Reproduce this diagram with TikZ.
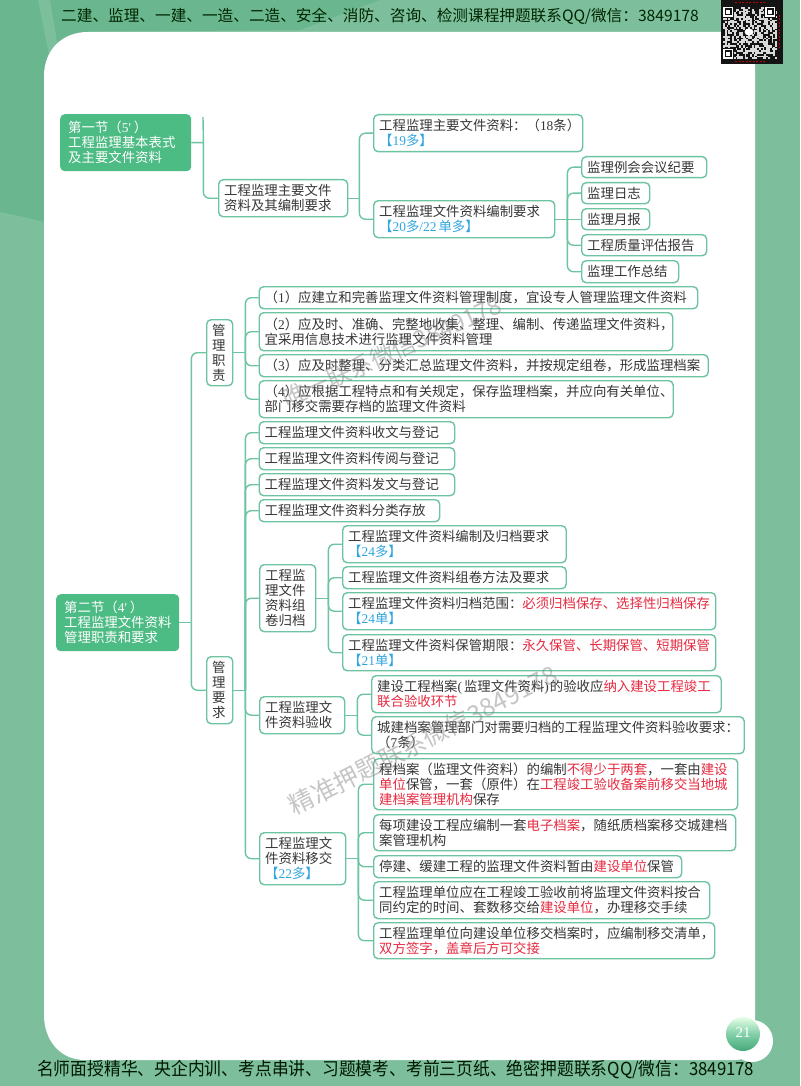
\documentclass[tikz,border=0pt]{standalone}
\usepackage{fontspec}
\setmainfont{Noto Sans CJK SC}
\newfontfamily\lat{Liberation Serif}
\usetikzlibrary{calc}
\definecolor{bgc}{HTML}{7DBE9C}
\definecolor{bgd}{HTML}{6AB78F}
\definecolor{bd}{HTML}{6CC4A0}
\definecolor{rootc}{HTML}{4CBB84}
\definecolor{tx}{HTML}{363636}
\definecolor{rd}{HTML}{E62A40}
\definecolor{bl}{HTML}{2FA6E0}
\newcommand{\R}[1]{\textcolor{rd}{#1}}
\newcommand{\B}[1]{\textcolor{bl}{#1}}
\newcommand{\Ln}[1]{{\lat #1}}
\newcommand{\Ind}{\hspace*{2.5pt}}
\tikzset{
  boxbase/.style={anchor=north west,inner xsep=5.5pt,inner ysep=0pt,align=left,font=\fontsize{13.4}{15}\selectfont},
  leafbox/.style={boxbase,draw=bd,line width=1.4pt,rounded corners=4.5pt,fill=white,text=tx},
  rootbox/.style={boxbase,fill=rootc,rounded corners=4.5pt,text=white},
  stem/.style={draw=bd,line width=1.4pt},
  link/.style={draw=bd,line width=1.4pt,rounded corners=6pt},
  wmark/.style={text=gray,opacity=.45}
}
\newcommand{\bx}[7][leafbox]{%
  \pgfmathsetmacro\bw{#5-#3}\pgfmathsetmacro\bh{#6-#4}\pgfmathsetmacro\tw{#5-#3-11}%
  \node[#1,minimum width=\bw pt,minimum height=\bh pt,text width=\tw pt] (#2) at (#3,#4) {#7};}
\begin{document}
\begin{tikzpicture}[x=1pt,y=-1pt]
\useasboundingbox (0,0) rectangle (800,1086);
\fill[bgc] (0,0) rectangle (800,1086);
\fill[bgd] (0,0) -- (380,0) -- (300,30) -- (80,32) -- (44,70) -- (44,222) .. controls (30,218) and (15,215) .. (0,212) -- cycle;
\fill[white,opacity=.12] (38,0) -- (50,0) -- (60,60) -- (50,60) -- cycle;
% page
\fill[white] (88,32) -- (725,32) .. controls (745,32) and (755,45) .. (755,65) -- (755,1040) .. controls (755,1052) and (748,1060) .. (735,1060) -- (85,1060) .. controls (60,1060) and (44,1040) .. (44,1015) -- (44,76) .. controls (44,50) and (62,32) .. (88,32) -- cycle;
% header and footer
\node[anchor=west,inner sep=0,text=black!85!green,font=\fontsize{15.65}{18}\selectfont] (head) at (61,16) {二建、监理、一建、一造、二造、安全、消防、咨询、检测课程押题联系QQ/微信：3849178};
\node[anchor=west,inner sep=0,text=black!90!green,font=\fontsize{18}{20}\selectfont] (foot) at (37,1069) {\scalebox{.932}[1]{名师面授精华、央企内训、考点串讲、习题模考、考前三页纸、绝密押题联系QQ/微信：3849178}};
% QR
\fill[black!92] (721,0) rectangle (783,64);
\pgfmathsetseed{11}
\foreach \i in {0,...,29}{\foreach \j in {0,...,28}{%
  \pgfmathrandominteger\rr{0}{1}\ifnum\rr=1 \fill[white!85!black] (723+\i*1.8,7+\j*1.8) rectangle +(1.8,1.8);\fi}}
\foreach \a/\b in {723/7,765/7,723/49}{%
  \fill[black!92] (\a-1,\b-1) rectangle +(12,12);
  \fill[white] (\a,\b) rectangle +(10,10);
  \fill[black!92] (\a+1.5,\b+1.5) rectangle +(7,7);
  \fill[white] (\a+3,\b+3) rectangle +(4,4);}
\fill[white] (749,32) ellipse (4.5 and 3.5);
\draw[red!75!black,line width=1pt,dash pattern=on 2pt off 1.5pt] (735,2.5) -- (765,2.5) (735,61.5) -- (765,61.5) (779.5,15) -- (779.5,48);
% page number
\fill[white] (752,1041) circle (21);
\shade[top color=green!10!white,bottom color=rootc!90!black,middle color=rootc!70!white] (743,1034) circle (17);
\node[text=white,inner sep=0,font=\lat\fontsize{15}{16}\selectfont] (pg) at (743,1033) {21};

% section 1
\bx[rootbox]{rootA}{60}{114}{191}{171}{\Ind 第一节（\Ln{5'}\kern3pt）\\\Ind 工程监理基本表式\\\Ind 及主要文件资料}
\bx{a1}{218}{179}{347}{216}{工程监理主要文件\\资料及其编制要求}
\bx{b1}{373}{114}{582}{151}{工程监理主要文件资料：（\Ln{18}条）\\\B{【\Ln{19}多】}}
\bx{b2}{373}{200}{554}{237}{工程监理文件资料编制要求\\\B{【\Ln{20}多\Ln{/22}\kern2pt 单多】}}
\bx{c1}{581}{156}{706}{177}{监理例会会议纪要}
\bx{c2}{581}{182}{649}{203}{监理日志}
\bx{c3}{581}{208}{649}{229}{监理月报}
\bx{c4}{581}{234}{706}{255}{工程质量评估报告}
\bx{c5}{581}{260}{678}{282}{监理工作总结}
\coordinate (tA) at ($(rootA.east)+(12,0)$);
\coordinate (tAtop) at (203,117);
\draw[stem] (rootA.east) -- (tA) (tAtop) -- (tA);
\draw[link] (tA) |- (a1.west);
\coordinate (ta1) at ($(a1.east)+(11,0)$);
\draw[stem] (a1.east) -- (ta1);
\draw[link] (ta1) |- (b1.west);
\draw[link] (ta1) |- (b2.west);
\coordinate (tb2) at ($(b2.east)+(12,0)$);
\draw[stem] (b2.east) -- (c3.west);
\foreach \c in {c1,c2,c4,c5}{\draw[link] (tb2) |- (\c.west);}

% section 2
\bx[rootbox]{rootB}{56}{594}{179}{651}{\Ind 第二节（\Ln{4'}\kern3pt）\\\Ind 工程监理文件资料\\\Ind 管理职责和要求}
\bx{zz}{206}{319}{232}{385}{管\\理\\职\\责}
\bx{yq}{206}{656}{232}{723}{管\\理\\要\\求}
\bx{d1}{258.5}{286}{697}{308}{（\Ln{1}）应建立和完善监理文件资料管理制度，宜设专人管理监理文件资料}
\bx{d2}{258.5}{312}{672}{350}{（\Ln{2}）应及时、准确、完整地收集、整理、编制、传递监理文件资料，\\宜采用信息技术进行监理文件资料管理}
\bx{d3}{258.5}{354}{707.5}{376}{（\Ln{3}）应及时整理、分类汇总监理文件资料，并按规定组卷，形成监理档案}
\bx{d4}{258.5}{380}{672.5}{417}{（\Ln{4}）应根据工程特点和有关规定，保存监理档案，并应向有关单位、\\部门移交需要存档的监理文件资料}
\bx{e1}{258.5}{421}{454}{443}{工程监理文件资料收文与登记}
\bx{e2}{258.5}{447}{454}{469}{工程监理文件资料传阅与登记}
\bx{e3}{258.5}{473}{454}{495}{工程监理文件资料发文与登记}
\bx{e4}{258.5}{499}{439}{521}{工程监理文件资料分类存放}
\bx{f}{259}{564}{315}{631}{工程监\\理文件\\资料组\\卷归档}
\bx{g1}{342}{525}{565.5}{562}{工程监理文件资料编制及归档要求\\\B{【\Ln{24}多】}}
\bx{g2}{342}{566}{565.5}{588}{工程监理文件资料组卷方法及要求}
\bx{g3}{342}{592}{715}{629}{工程监理文件资料归档范围：\R{必须归档保存、选择性归档保存}\\\B{【\Ln{24}单】}}
\bx{g4}{342}{634}{715}{670}{工程监理文件资料保管期限：\R{永久保管、长期保管、短期保管}\\\B{【\Ln{21}单】}}
\bx{h}{259}{696}{344}{733}{工程监理文\\件资料验收}
\bx{i1}{371}{675}{720.5}{712}{建设工程档案\Ln{(}\kern2pt 监理文件资料\Ln{)}\kern1pt 的验收应\R{纳入建设工程竣工}\\\R{联合验收环节}}
\bx{i2}{371}{716}{743.5}{753}{城建档案管理部门对需要归档的工程监理文件资料验收要求：\\（\Ln{7}条）}
\bx{j}{259}{832}{345}{884}{工程监理文\\件资料移交\\\B{【\Ln{22}多】}}
\bx{k1}{373}{758}{737}{809}{程档案（监理文件资料）的编制\R{不得少于两套}，一套由\R{建设}\\\R{单位}保管，一套（原件）在\R{工程竣工验收备案前移交当地城}\\\R{建档案管理机构}保存}
\bx{k2}{373}{814}{735}{850}{每项建设工程应编制一套\R{电子档案}，随纸质档案移交城建档\\案管理机构}
\bx{k3}{373}{855}{681}{877}{停建、缓建工程的监理文件资料暂由\R{建设单位}保管}
\bx{k4}{373}{881}{709}{918}{工程监理单位应在工程竣工验收前将监理文件资料按合\\同约定的时间、套数移交给\R{建设单位}，办理移交手续}
\bx{k5}{373}{922}{714}{958}{工程监理单位向建设单位移交档案时，应编制移交清单，\\\R{双方签字，盖章后方可交接}}
\coordinate (tB) at ($(rootB.east)+(12,0)$);
\draw[stem] (rootB.east) -- (tB);
\draw[link] (tB) |- (zz.west);
\draw[link] (tB) |- (yq.west);
\coordinate (tzz) at ($(zz.east)+(12,0)$);
\draw[stem] (zz.east) -- (tzz);
\foreach \c in {d1,d2,d3,d4}{\draw[link] (tzz) |- (\c.west);}
\coordinate (tyq) at ($(yq.east)+(12,0)$);
\draw[stem] (yq.east) -- (tyq);
\foreach \c in {e1,e2,e3,e4,f,h,j}{\draw[link] (tyq) |- (\c.west);}
\coordinate (tf) at ($(f.east)+(12,0)$);
\draw[stem] (f.east) -- (tf);
\foreach \c in {g1,g2,g3,g4}{\draw[link] (tf) |- (\c.west);}
\coordinate (th) at ($(h.east)+(12,0)$);
\draw[stem] (h.east) -- (th);
\foreach \c in {i1,i2}{\draw[link] (th) |- (\c.west);}
\coordinate (tj) at ($(j.east)+(12,0)$);
\draw[stem] (j.east) -- (tj);
\foreach \c in {k1,k2,k3,k4,k5}{\draw[link] (tj) |- (\c.west);}
% watermarks
\node[wmark,inner sep=0,rotate=27,font=\fontsize{25}{26}\selectfont] (wm1) at (423,740) {精准押题联系微信3849178};
\node[wmark,inner sep=0,rotate=24,font=\fontsize{24}{25}\selectfont] (wm2) at (392,352) {唯一联系微信3849178};
\end{tikzpicture}
\end{document}
